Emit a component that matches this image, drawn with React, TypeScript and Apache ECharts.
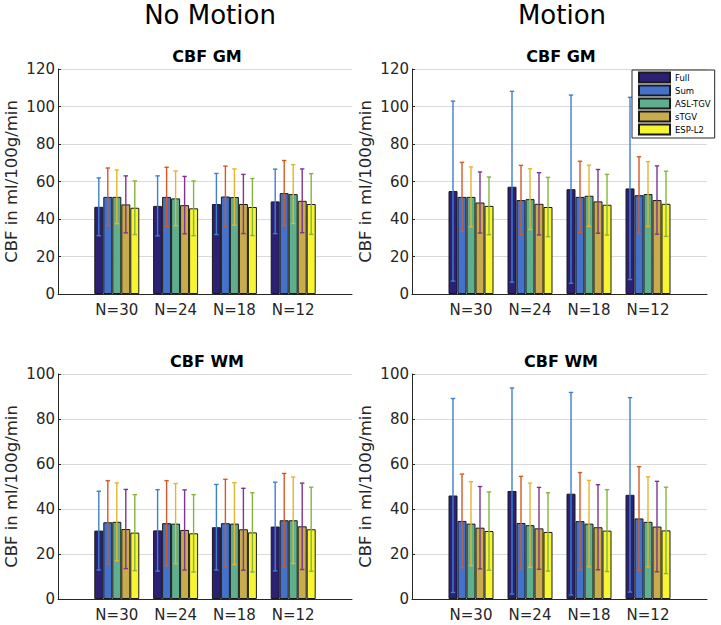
import React, { useEffect, useRef } from "react";
import * as echarts from "echarts";

const categories = ["N=30", "N=24", "N=18", "N=12"];
const methods = ["Full", "Sum", "ASL-TGV", "sTGV", "ESP-L2"];
const barColors = ["#2b2072", "#4472cb", "#5fae8e", "#c7ab4d", "#f7f533"];
const errColors = ["#3f7fd0", "#d35a23", "#e6b42e", "#7d3590", "#86b43e"];

const gmYTicks = [0, 20, 40, 60, 80, 100, 120];
const wmYTicks = [0, 20, 40, 60, 80, 100];

// CBF GM, No Motion: means and standard deviations per method
const gmNoMotionFull = [46.5, 47.0, 48.0, 49.4];
const gmNoMotionSum = [51.8, 51.8, 52.0, 53.8];
const gmNoMotionAsl = [51.8, 51.0, 51.7, 53.3];
const gmNoMotionStgv = [47.8, 47.4, 48.0, 49.7];
const gmNoMotionEsp = [46.0, 45.7, 46.4, 48.0];
const gmNoMotionFullSd = [15.4, 16.0, 16.3, 17.2];
const gmNoMotionSumSd = [15.4, 15.8, 16.2, 17.4];
const gmNoMotionAslSd = [14.3, 14.6, 15.0, 15.7];
const gmNoMotionStgvSd = [15.2, 15.3, 15.8, 17.0];
const gmNoMotionEspSd = [14.3, 14.6, 15.2, 16.2];

// CBF GM, Motion
const gmMotionFull = [54.9, 57.2, 55.9, 56.3];
const gmMotionSum = [51.8, 50.1, 51.8, 52.7];
const gmMotionAsl = [51.8, 50.6, 52.4, 53.3];
const gmMotionStgv = [48.8, 48.1, 49.4, 50.1];
const gmMotionEsp = [47.0, 46.4, 47.6, 48.1];
const gmMotionFullSd = [48.0, 50.9, 50.2, 48.6];
const gmMotionSumSd = [18.4, 18.5, 19.0, 20.5];
const gmMotionAslSd = [16.0, 16.2, 16.3, 17.3];
const gmMotionStgvSd = [16.3, 16.6, 17.0, 18.2];
const gmMotionEspSd = [15.4, 15.8, 16.2, 17.4];

// CBF WM, No Motion
const wmNoMotionFull = [30.4, 30.5, 31.9, 32.2];
const wmNoMotionSum = [34.1, 33.7, 33.7, 35.0];
const wmNoMotionAsl = [34.3, 33.5, 33.5, 35.0];
const wmNoMotionStgv = [31.1, 30.7, 31.0, 32.3];
const wmNoMotionEsp = [29.5, 29.2, 29.6, 31.0];
const wmNoMotionFullSd = [17.5, 18.1, 19.0, 19.7];
const wmNoMotionSumSd = [18.5, 18.9, 19.5, 20.8];
const wmNoMotionAslSd = [17.3, 17.8, 18.2, 19.2];
const wmNoMotionStgvSd = [17.6, 17.8, 18.2, 19.2];
const wmNoMotionEspSd = [16.9, 17.2, 17.6, 18.7];

// CBF WM, Motion
const wmMotionFull = [46.0, 48.0, 46.8, 46.3];
const wmMotionSum = [34.7, 33.8, 34.6, 35.8];
const wmMotionAsl = [33.5, 32.8, 33.5, 34.3];
const wmMotionStgv = [31.7, 31.4, 31.9, 32.2];
const wmMotionEsp = [30.2, 29.8, 30.4, 30.5];
const wmMotionFullSd = [43.1, 45.8, 45.0, 43.2];
const wmMotionSumSd = [20.8, 20.7, 21.6, 23.0];
const wmMotionAslSd = [18.6, 18.7, 19.2, 20.0];
const wmMotionStgvSd = [18.3, 18.2, 18.9, 20.1];
const wmMotionEspSd = [17.4, 17.4, 18.2, 19.2];

const panels = [
  {
    means: [gmNoMotionFull, gmNoMotionSum, gmNoMotionAsl, gmNoMotionStgv, gmNoMotionEsp],
    sds: [gmNoMotionFullSd, gmNoMotionSumSd, gmNoMotionAslSd, gmNoMotionStgvSd, gmNoMotionEspSd],
    ticks: gmYTicks,
  },
  {
    means: [gmMotionFull, gmMotionSum, gmMotionAsl, gmMotionStgv, gmMotionEsp],
    sds: [gmMotionFullSd, gmMotionSumSd, gmMotionAslSd, gmMotionStgvSd, gmMotionEspSd],
    ticks: gmYTicks,
  },
  {
    means: [wmNoMotionFull, wmNoMotionSum, wmNoMotionAsl, wmNoMotionStgv, wmNoMotionEsp],
    sds: [wmNoMotionFullSd, wmNoMotionSumSd, wmNoMotionAslSd, wmNoMotionStgvSd, wmNoMotionEspSd],
    ticks: wmYTicks,
  },
  {
    means: [wmMotionFull, wmMotionSum, wmMotionAsl, wmMotionStgv, wmMotionEsp],
    sds: [wmMotionFullSd, wmMotionSumSd, wmMotionAslSd, wmMotionStgvSd, wmMotionEspSd],
    ticks: wmYTicks,
  },
];

const FONT = "DejaVu Sans";
const AXIS_COLOR = "#262626";
const BAR_W = 9;

const gridRects = [
  { left: 58, top: 69, width: 294, height: 225 },
  { left: 412, top: 69, width: 295, height: 225 },
  { left: 58, top: 374, width: 294, height: 225 },
  { left: 412, top: 374, width: 295, height: 225 },
];

export default function App() {
  const ref = useRef<HTMLDivElement>(null);
  useEffect(() => {
    if (!ref.current) return;
    const chart = echarts.init(ref.current, null, { renderer: "svg" });
    const axisCats = ["", ...categories, ""];

    const xAxis = gridRects.map((_, g) => ({
      type: "category",
      gridIndex: g,
      data: axisCats,
      boundaryGap: false,
      axisLine: { show: true, lineStyle: { color: AXIS_COLOR, width: 1 } },
      axisTick: { show: false },
      axisLabel: { interval: 0, fontSize: 15, fontFamily: FONT, color: AXIS_COLOR, margin: 8 },
      splitLine: { show: false },
    }));

    const yAxis = panels.map((p, g) => ({
      type: "value",
      gridIndex: g,
      min: 0,
      max: p.ticks[p.ticks.length - 1],
      interval: 20,
      name: "CBF in ml/100g/min",
      nameLocation: "middle",
      nameGap: 38,
      nameTextStyle: { fontSize: 16.5, fontFamily: FONT, color: AXIS_COLOR },
      axisLine: { show: true, lineStyle: { color: AXIS_COLOR, width: 1 } },
      axisTick: { show: true, inside: true, length: 3, lineStyle: { color: AXIS_COLOR } },
      axisLabel: { fontSize: 15, fontFamily: FONT, color: AXIS_COLOR, margin: 3 },
      splitLine: { show: true, lineStyle: { color: "#dadada", width: 1 } },
    }));

    const series: any[] = [];
    panels.forEach((p, g) => {
      methods.forEach((name, m) => {
        series.push({
          type: "bar",
          name,
          xAxisIndex: g,
          yAxisIndex: g,
          barWidth: BAR_W,
          barGap: "0%",
          data: ["-", ...p.means[m], "-"],
          itemStyle: { color: barColors[m], borderColor: "#1a1a1a", borderWidth: 1 },
          z: 2,
        });
      });
      const errData: number[][] = [];
      methods.forEach((_, m) => {
        categories.forEach((_, i) => {
          errData.push([i + 1, m, p.means[m][i], p.sds[m][i]]);
        });
      });
      series.push({
        type: "custom",
        name: "err" + g,
        xAxisIndex: g,
        yAxisIndex: g,
        data: errData,
        encode: { x: 0, y: 2 },
        z: 5,
        renderItem: (params: any, api: any) => {
          const ci = api.value(0);
          const m = api.value(1);
          const mean = api.value(2);
          const sd = api.value(3);
          const c = api.coord([ci, mean]);
          const top = api.coord([ci, mean + sd]);
          const bot = api.coord([ci, mean - sd]);
          const x = c[0] + (m - 2) * BAR_W;
          const col = errColors[m];
          const st = { stroke: col, lineWidth: 1.4 };
          return {
            type: "group",
            children: [
              { type: "line", shape: { x1: x, y1: top[1], x2: x, y2: bot[1] }, style: st },
              { type: "line", shape: { x1: x - 2.2, y1: top[1], x2: x + 2.2, y2: top[1] }, style: st },
              { type: "line", shape: { x1: x - 2.2, y1: bot[1], x2: x + 2.2, y2: bot[1] }, style: st },
            ],
          };
        },
      });
    });

    const titleText = (text: string, x: number, y: number, size: number, bold: boolean) => ({
      type: "text",
      x,
      y,
      style: {
        text,
        fill: "#000",
        font: `${bold ? "bold " : ""}${size}px "${FONT}"`,
        textAlign: "center",
        textVerticalAlign: "middle",
      },
    });

    chart.setOption({
      animation: false,
      backgroundColor: "#ffffff",
      grid: gridRects.map((r) => ({ ...r, containLabel: false })),
      xAxis,
      yAxis,
      legend: {
        data: methods,
        orient: "vertical",
        left: 632,
        top: 70,
        itemWidth: 31,
        itemHeight: 10,
        itemGap: 0,
        icon: "rect",
        padding: [1, 4, 2, 6],
        backgroundColor: "#ffffff",
        borderColor: "#262626",
        borderWidth: 1,
        borderRadius: 0,
        textStyle: { fontSize: 8.5, fontFamily: FONT, color: "#000", lineHeight: 13 },
        z: 10,
      },
      graphic: [
        titleText("No Motion", 210, 15, 26, false),
        titleText("Motion", 562, 15, 26, false),
        titleText("CBF GM", 207, 56.5, 16, true),
        titleText("CBF GM", 561, 56.5, 16, true),
        titleText("CBF WM", 207, 361.5, 16, true),
        titleText("CBF WM", 561, 361.5, 16, true),
      ],
      series,
    });
    return () => chart.dispose();
  }, []);
  return (
    <div
      ref={ref}
      style={{ position: "absolute", left: 0, top: 0, width: 721, height: 625, background: "#fff" }}
    />
  );
}
